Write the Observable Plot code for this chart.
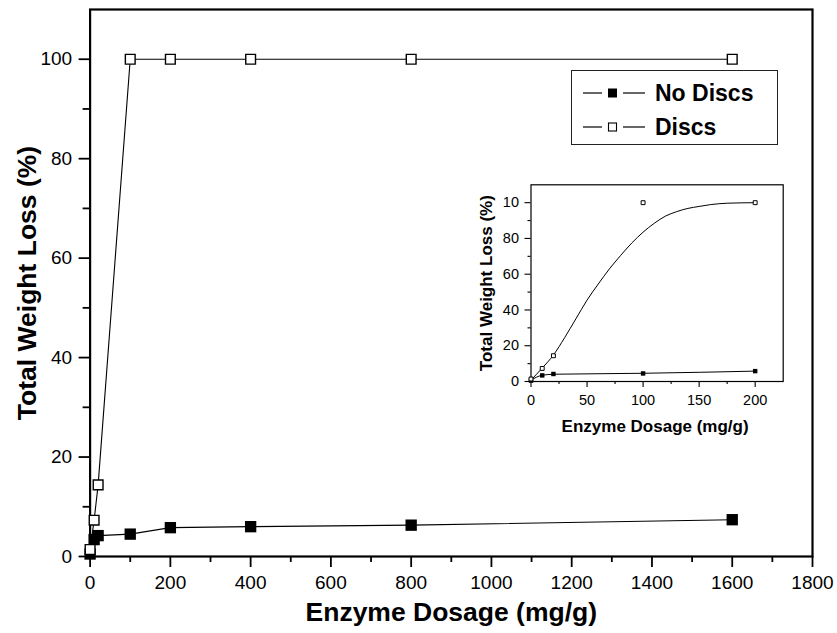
<!DOCTYPE html>
<html><head><meta charset="utf-8">
<script src="https://cdn.jsdelivr.net/npm/d3@7"></script>
<script src="https://cdn.jsdelivr.net/npm/@observablehq/plot@0.6"></script>
<style>
body{margin:0;background:#fff;font-family:"Liberation Sans",Arial,Helvetica,sans-serif;}
#wrap{position:relative;width:837px;height:633px;overflow:hidden;background:#fff}
#main{position:absolute;left:0;top:0}
#inset{position:absolute;left:440px;top:175px}
#legend{position:absolute;left:571px;top:70px;width:207px;height:75px;border:1.4px solid #222;background:#fff;box-sizing:border-box}
.row{position:absolute;left:0;height:30px;display:flex;align-items:center}
.row span{font-weight:bold;font-size:23px;color:#000;margin-left:9px}
</style></head><body>
<div id="wrap"><div id="main"></div><div id="inset"></div><div id="legend"></div></div>
<script>
// ---- data ----
const dosage = [0, 10, 20, 100, 200, 400, 800, 1600];
const noDiscs = [0.5, 3.4, 4.2, 4.5, 5.8, 6.0, 6.3, 7.4];
const discs = [1.4, 7.3, 14.4, 100, 100, 100, 100, 100];
const seriesNames = ["No Discs", "Discs"];

// inset fitted curves
const fitDiscsX = [0, 10, 20, 30, 40, 50, 60, 70, 80, 90, 100, 110, 120, 130, 140, 150, 160, 175, 200];
const fitDiscsY = [0.8, 7.5, 14.8, 24.5, 35, 45.5, 54.5, 63, 70.5, 77.5, 83.5, 88.5, 92.5, 95, 96.8, 97.9, 98.9, 99.7, 100];
const fitNoDiscsX = [0, 10, 20, 25, 100, 200];
const fitNoDiscsY = [0.8, 3.5, 4.05, 4.1, 4.6, 5.8];

// ticks
const xTicks = [0, 200, 400, 600, 800, 1000, 1200, 1400, 1600, 1800];
const xMinorTicks = [100, 300, 500, 700, 900, 1100, 1300, 1500, 1700];
const yTicks = [0, 20, 40, 60, 80, 100];
const yMinorTicks = [10, 30, 50, 70, 90];
const insetXTicks = [0, 50, 100, 150, 200];
const insetXMinorTicks = [25, 75, 125, 175];
const insetYTicks = [0, 20, 40, 60, 80, 100];
const insetYTickLabels = ["0", "20", "40", "60", "80", "10"];
const insetYMinorTicks = [10, 30, 50, 70, 90];
const insetMaxDosage = 200;

const xTitle = "Enzyme Dosage (mg/g)";
const yTitle = "Total Weight Loss (%)";

// ---- tables ----
const rowsND = dosage.map((x, i) => ({x, y: noDiscs[i]}));
const rowsD = dosage.map((x, i) => ({x, y: discs[i]}));
const insetND = rowsND.filter(d => d.x <= insetMaxDosage);
const insetD = rowsD.filter(d => d.x <= insetMaxDosage);
const fitD = fitDiscsX.map((x, i) => ({x, y: fitDiscsY[i]}));
const fitND = fitNoDiscsX.map((x, i) => ({x, y: fitNoDiscsY[i]}));

const font = "'Liberation Sans', Arial, Helvetica, sans-serif";
const plain = d => String(d);

const main = Plot.plot({
  width: 837, height: 633,
  marginLeft: 89.6, marginRight: 25, marginTop: 9, marginBottom: 77,
  style: {fontFamily: font, fontSize: "19px", color: "#000", background: "transparent", overflow: "visible"},
  x: {domain: [0, 1800]},
  y: {domain: [0, 110]},
  marks: [
    Plot.axisX(xTicks, {tickSize: 11, tickPadding: 8, fontSize: 19, strokeWidth: 1.8, label: null, tickFormat: plain}),
    Plot.axisX(xMinorTicks, {tickSize: 6, strokeWidth: 1.8, tickFormat: () => "", label: null}),
    Plot.axisY(yTicks, {tickSize: 11, tickPadding: 7, fontSize: 19, strokeWidth: 1.8, label: null, tickFormat: plain}),
    Plot.axisY(yMinorTicks, {tickSize: 7, strokeWidth: 1.8, tickFormat: () => "", label: null}),
    Plot.frame({stroke: "#000", strokeWidth: 2.2}),
    Plot.line(rowsND, {x: "x", y: "y", stroke: "#000", strokeWidth: 1.1}),
    Plot.line(rowsD, {x: "x", y: "y", stroke: "#000", strokeWidth: 1.1}),
    Plot.dot(rowsND, {x: "x", y: "y", symbol: "square", r: 6.4, fill: "#000", stroke: "none"}),
    Plot.dot(rowsD, {x: "x", y: "y", symbol: "square", r: 5.5, fill: "#fff", stroke: "#000", strokeWidth: 1.4}),
    Plot.text([xTitle], {text: d => d, frameAnchor: "bottom", lineAnchor: "middle", textAnchor: "middle", dy: 56, fontSize: 26.5, fontWeight: "bold"}),
    Plot.text([yTitle], {text: d => d, frameAnchor: "left", lineAnchor: "middle", textAnchor: "middle", dx: -63, rotate: -90, fontSize: 26.5, fontWeight: "bold"})
  ]
});
document.getElementById("main").appendChild(main);

const inset = Plot.plot({
  width: 360, height: 270,
  marginLeft: 90.5, marginRight: 17.3, marginTop: 9.3, marginBottom: 64,
  style: {fontFamily: font, fontSize: "14.5px", color: "#000", background: "transparent", overflow: "visible"},
  x: {domain: [0, 225]},
  y: {domain: [0, 110]},
  marks: [
    Plot.axisX(insetXTicks, {tickSize: 6, tickPadding: 7, fontSize: 14.5, strokeWidth: 1.1, label: null, tickFormat: plain}),
    Plot.axisX(insetXMinorTicks, {tickSize: 3, strokeWidth: 1.1, tickFormat: () => "", label: null}),
    Plot.axisY(insetYTicks, {tickSize: 6, tickPadding: 6, fontSize: 14.5, strokeWidth: 1.1, label: null,
      tickFormat: d => insetYTickLabels[insetYTicks.indexOf(d)]}),
    Plot.axisY(insetYMinorTicks, {tickSize: 3, strokeWidth: 1.1, tickFormat: () => "", label: null}),
    Plot.frame({stroke: "#000", strokeWidth: 1.2}),
    Plot.line(fitD, {x: "x", y: "y", curve: "monotone-x", stroke: "#000", strokeWidth: 1}),
    Plot.line(fitND, {x: "x", y: "y", curve: "monotone-x", stroke: "#000", strokeWidth: 1}),
    Plot.dot(insetND, {x: "x", y: "y", symbol: "square", r: 2.5, fill: "#000", stroke: "none"}),
    Plot.dot(insetD, {x: "x", y: "y", symbol: "square", r: 2.2, fill: "#fff", stroke: "#000", strokeWidth: 1}),
    Plot.text([xTitle], {text: d => d, frameAnchor: "bottom", lineAnchor: "middle", textAnchor: "middle", dy: 45, dx: -2, fontSize: 17, fontWeight: "bold"}),
    Plot.text([yTitle], {text: d => d, frameAnchor: "left", lineAnchor: "middle", textAnchor: "middle", dx: -44, rotate: -90, fontSize: 17, fontWeight: "bold"})
  ]
});
document.getElementById("inset").appendChild(inset);

// legend
const legend = document.getElementById("legend");
seriesNames.forEach((name, i) => {
  const row = document.createElement("div");
  row.className = "row";
  row.style.top = (7 + i * 34) + "px";
  const filled = i === 0;
  row.innerHTML =
    `<svg width="74" height="30" style="display:block">
       <line x1="11" x2="30" y1="15" y2="15" stroke="#000" stroke-width="1.2"/>
       <line x1="51" x2="73" y1="15" y2="15" stroke="#000" stroke-width="1.2"/>
       ${filled
         ? `<rect x="36" y="10.5" width="9" height="9" fill="#000"/>`
         : `<rect x="36.5" y="11" width="8" height="8" fill="#fff" stroke="#000" stroke-width="1.1"/>`}
     </svg><span>${name}</span>`;
  legend.appendChild(row);
});
</script>
</body></html>
